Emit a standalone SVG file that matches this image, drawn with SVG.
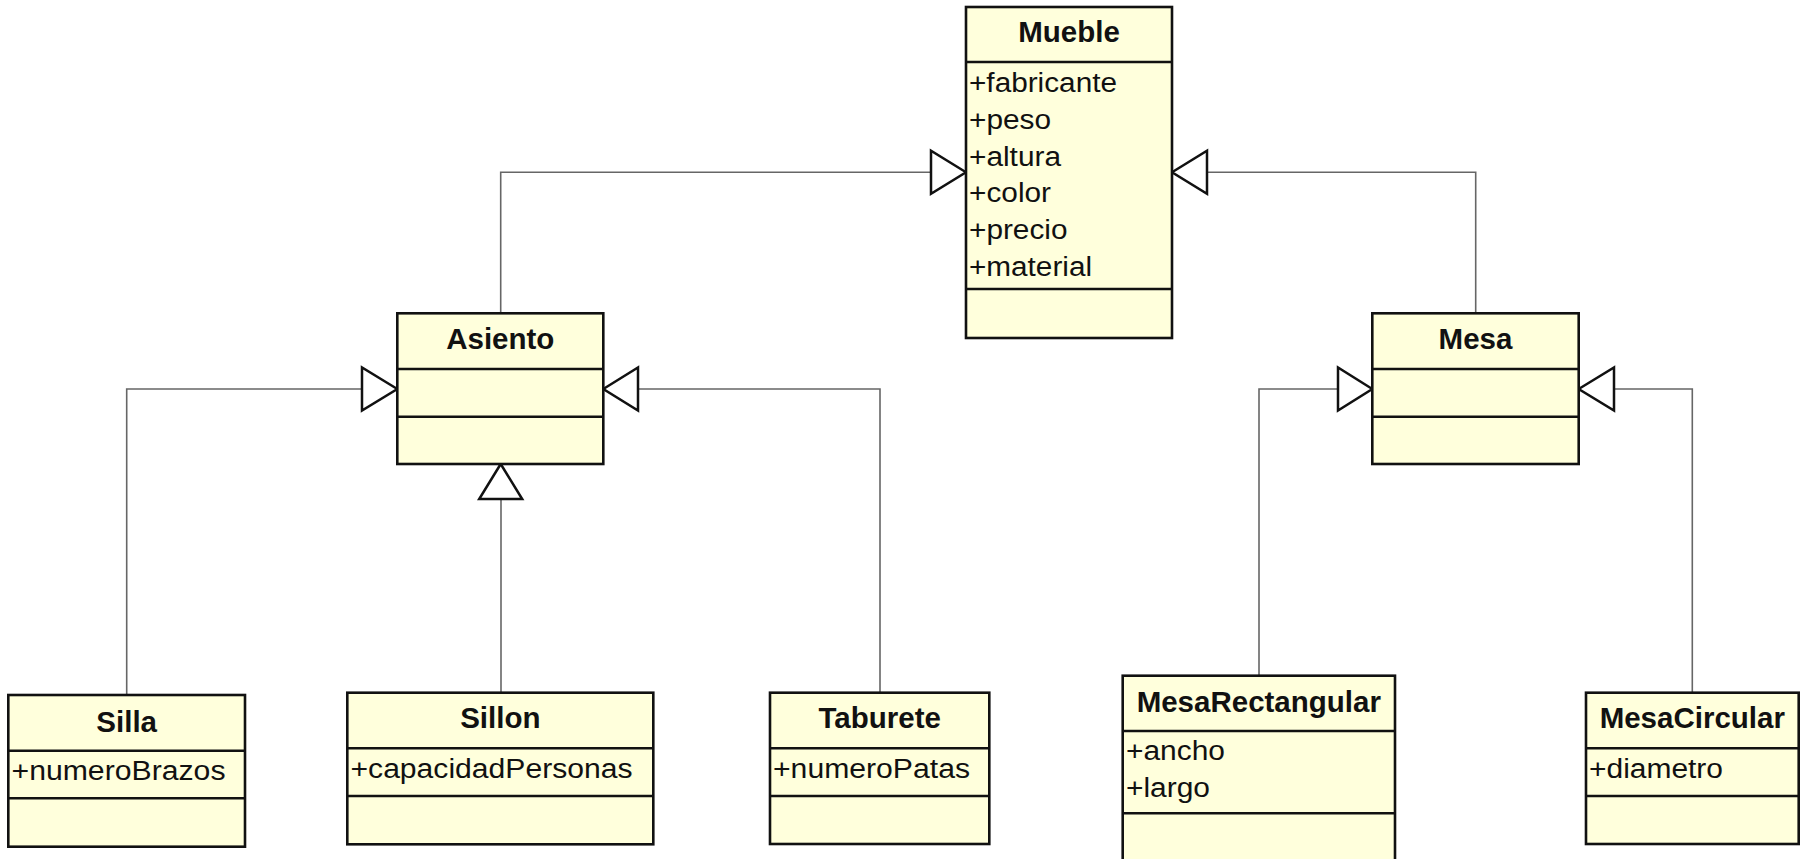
<svg xmlns="http://www.w3.org/2000/svg" width="1806" height="859" viewBox="0 0 1806 859">
<style>
.box{fill:#FFFFDC;stroke:#111;stroke-width:2.6}
.sep{stroke:#111;stroke-width:2.6}
.title{font-family:"Liberation Sans",Arial,sans-serif;font-weight:bold;font-size:29.5px;fill:#111;text-anchor:middle}
.attr{font-family:"Liberation Sans",Arial,sans-serif;font-size:27px;fill:#111}
.line{fill:none;stroke:#666;stroke-width:1.6}
.head{fill:#fff;stroke:#111;stroke-width:2.5;stroke-linejoin:miter}
</style>
<rect width="1806" height="859" fill="#fff"/>
<g id="connectors">
<polyline class="line" points="500.7,313 500.7,172.3 931,172.3"/>
<polyline class="line" points="1475.7,313 1475.7,172.3 1207,172.3"/>
<polyline class="line" points="126.7,695 126.7,389 362,389"/>
<polyline class="line" points="501,692.7 501,499"/>
<polyline class="line" points="880,692.7 880,389 638,389"/>
<polyline class="line" points="1259,675.7 1259,389 1338,389"/>
<polyline class="line" points="1692.3,692.7 1692.3,389 1614,389"/>
<polygon class="head" points="966,172.3 931,150.8 931,193.8"/>
<polygon class="head" points="1172,172.3 1207,150.8 1207,193.8"/>
<polygon class="head" points="397.3,389 362,367.5 362,410.5"/>
<polygon class="head" points="603.3,389 638,367.5 638,410.5"/>
<polygon class="head" points="500.7,464 479.2,499 522.2,499"/>
<polygon class="head" points="1372.3,389 1338,367.5 1338,410.5"/>
<polygon class="head" points="1578.7,389 1614,367.5 1614,410.5"/>
</g>
<g id="Mueble">
<rect class="box" x="966" y="7" width="206" height="331"/>
<line class="sep" x1="966" y1="62" x2="1172" y2="62"/>
<line class="sep" x1="966" y1="289" x2="1172" y2="289"/>
<text class="title" x="1069" y="42">Mueble</text>
<text class="attr" x="969" y="92" textLength="148" lengthAdjust="spacingAndGlyphs">+fabricante</text>
<text class="attr" x="969" y="129" textLength="82" lengthAdjust="spacingAndGlyphs">+peso</text>
<text class="attr" x="969" y="166" textLength="92" lengthAdjust="spacingAndGlyphs">+altura</text>
<text class="attr" x="969" y="202" textLength="82" lengthAdjust="spacingAndGlyphs">+color</text>
<text class="attr" x="969" y="239" textLength="98.5" lengthAdjust="spacingAndGlyphs">+precio</text>
<text class="attr" x="969" y="276" textLength="123" lengthAdjust="spacingAndGlyphs">+material</text>
</g>
<g id="Asiento">
<rect class="box" x="397.3" y="313.3" width="206" height="150.7"/>
<line class="sep" x1="397.3" y1="369" x2="603.3" y2="369"/>
<line class="sep" x1="397.3" y1="416.7" x2="603.3" y2="416.7"/>
<text class="title" x="500.3" y="349">Asiento</text>
</g>
<g id="Mesa">
<rect class="box" x="1372.3" y="313.3" width="206.4" height="150.7"/>
<line class="sep" x1="1372.3" y1="369" x2="1578.7" y2="369"/>
<line class="sep" x1="1372.3" y1="416.7" x2="1578.7" y2="416.7"/>
<text class="title" x="1475.5" y="349">Mesa</text>
</g>
<g id="Silla">
<rect class="box" x="8.3" y="695" width="236.7" height="151.7"/>
<line class="sep" x1="8.3" y1="750.7" x2="245" y2="750.7"/>
<line class="sep" x1="8.3" y1="798.3" x2="245" y2="798.3"/>
<text class="title" x="126.7" y="731.7">Silla</text>
<text class="attr" x="11.5" y="780" textLength="214" lengthAdjust="spacingAndGlyphs">+numeroBrazos</text>
</g>
<g id="Sillon">
<rect class="box" x="347.3" y="692.7" width="306" height="151.6"/>
<line class="sep" x1="347.3" y1="748.3" x2="653.3" y2="748.3"/>
<line class="sep" x1="347.3" y1="796" x2="653.3" y2="796"/>
<text class="title" x="500.3" y="728.3">Sillon</text>
<text class="attr" x="350.5" y="777.7" textLength="282" lengthAdjust="spacingAndGlyphs">+capacidadPersonas</text>
</g>
<g id="Taburete">
<rect class="box" x="770" y="692.7" width="219.3" height="151.3"/>
<line class="sep" x1="770" y1="748.3" x2="989.3" y2="748.3"/>
<line class="sep" x1="770" y1="796" x2="989.3" y2="796"/>
<text class="title" x="879.7" y="728.3">Taburete</text>
<text class="attr" x="773" y="777.7" textLength="197" lengthAdjust="spacingAndGlyphs">+numeroPatas</text>
</g>
<g id="MesaRectangular">
<rect class="box" x="1122.7" y="675.7" width="272.3" height="200"/>
<line class="sep" x1="1122.7" y1="731" x2="1395" y2="731"/>
<line class="sep" x1="1122.7" y1="813.3" x2="1395" y2="813.3"/>
<text class="title" x="1258.8" y="711.7">MesaRectangular</text>
<text class="attr" x="1126" y="760" textLength="99" lengthAdjust="spacingAndGlyphs">+ancho</text>
<text class="attr" x="1126" y="796.7" textLength="84" lengthAdjust="spacingAndGlyphs">+largo</text>
</g>
<g id="MesaCircular">
<rect class="box" x="1586" y="692.7" width="212.7" height="151.3"/>
<line class="sep" x1="1586" y1="748.3" x2="1798.7" y2="748.3"/>
<line class="sep" x1="1586" y1="796" x2="1798.7" y2="796"/>
<text class="title" x="1692.3" y="728.3">MesaCircular</text>
<text class="attr" x="1589" y="777.7" textLength="134" lengthAdjust="spacingAndGlyphs">+diametro</text>
</g>
</svg>
